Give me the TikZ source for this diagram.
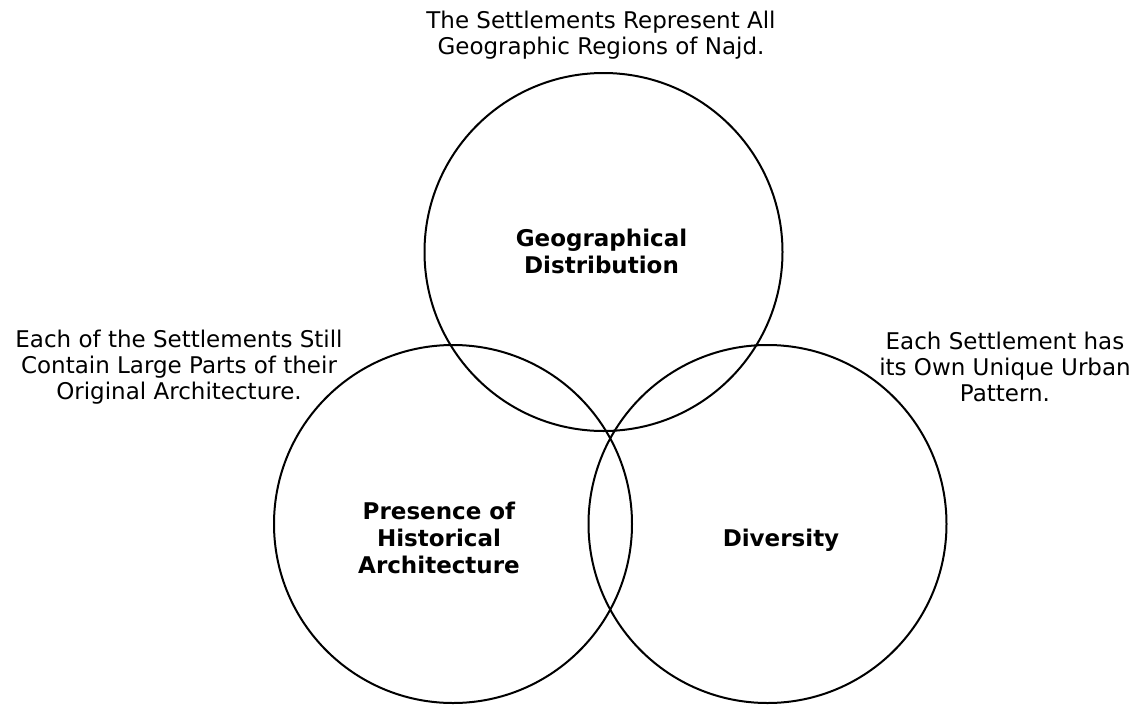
\documentclass[tikz,border=0pt]{standalone}
\usepackage{fontspec}
\setmainfont{DejaVu Sans}
\begin{document}
\begin{tikzpicture}[x=1pt,y=-1pt,
  venn/.style={circle, draw=black, line width=2pt, minimum size=358pt, inner sep=0pt},
  note/.style={align=center, inner sep=0pt, font=\fontsize{23}{26}\selectfont},
  lbl/.style={align=center, inner sep=0pt, font=\fontsize{23}{27}\selectfont\bfseries}]
\useasboundingbox (0,0) rectangle (1144,705);
\node[venn] (geo) at (603.5,252) {};
\node[venn] (hist) at (453,524) {};
\node[venn] (div) at (767.5,524) {};
\node[lbl] (geot) at (601.5,251) {Geographical\\Distribution};
\node[lbl] (histt) at (439,538) {Presence of\\Historical\\Architecture};
\node[lbl] (divt) at (781,540) {Diversity};
\node[note] (topn) at (601,35.5) {The Settlements Represent All\\Geographic Regions of Najd.};
\node[note] (leftn) at (179,367) {Each of the Settlements Still\\Contain Large Parts of their\\Original Architecture.};
\node[note] (rightn) at (1005,367) {Each Settlement has\\its Own Unique Urban\\Pattern.};
\end{tikzpicture}
\end{document}
